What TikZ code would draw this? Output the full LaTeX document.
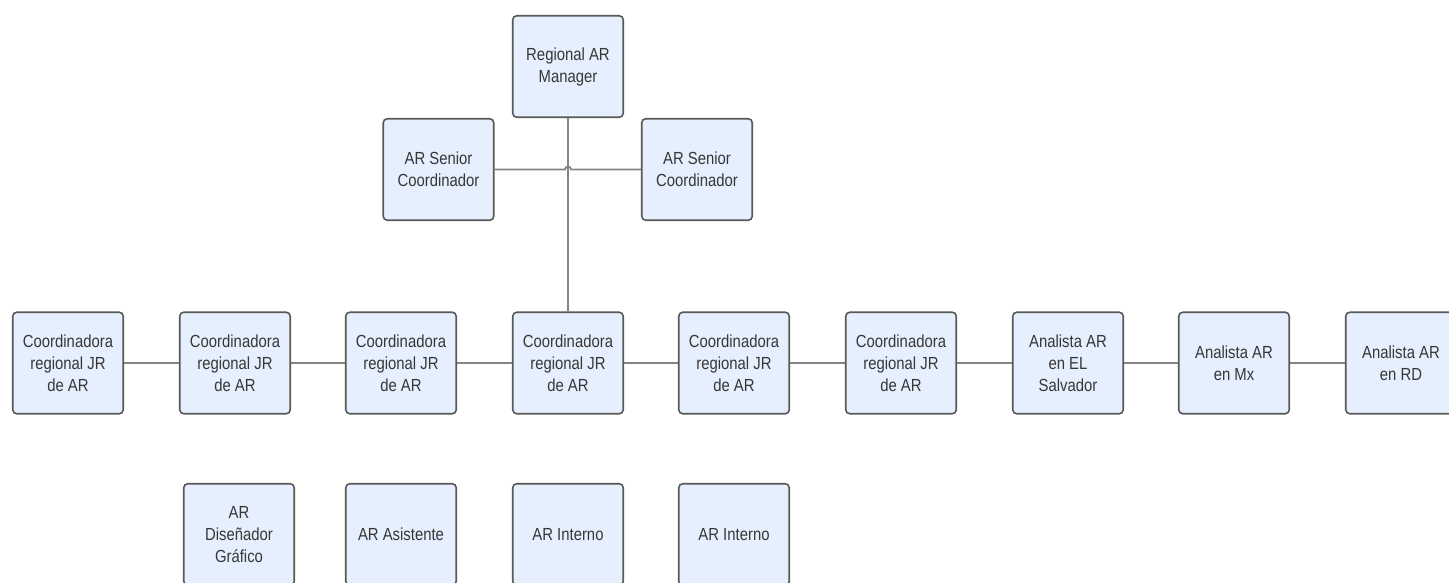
\documentclass[tikz,border=0pt]{standalone}
\usepackage{fontspec}
\setmainfont[FakeStretch=0.85]{Liberation Sans}
\definecolor{boxfill}{RGB}{229,239,253}
\definecolor{boxdraw}{RGB}{88,88,88}
\definecolor{linecol}{RGB}{132,132,132}
\definecolor{txtcol}{RGB}{55,55,55}
\begin{document}
\begin{tikzpicture}[x=1pt,y=-1pt,
  orgbox/.style={draw=boxdraw, fill=boxfill, line width=1.6pt, rounded corners=4pt,
    minimum width=110.5pt, minimum height=101.5pt, inner sep=2pt, align=center,
    text=txtcol, font=\fontsize{17.5}{22}\selectfont},
  link/.style={draw=linecol, line width=1.8pt}]
\useasboundingbox (0,0) rectangle (1449,582);
\begin{scope}
\clip (0,0) rectangle (1449,582);
% top
\node[orgbox] (mgr) at (568,66.5) {Regional AR\\Manager};
\node[orgbox] (sl) at (438.5,169.5) {AR Senior\\Coordinador};
\node[orgbox] (sr) at (697,169.5) {AR Senior\\Coordinador};
% row
\node[orgbox] (r1) at (68,363) {Coordinadora\\regional JR\\de AR};
\node[orgbox] (r2) at (235,363) {Coordinadora\\regional JR\\de AR};
\node[orgbox] (r3) at (401,363) {Coordinadora\\regional JR\\de AR};
\node[orgbox] (r4) at (568,363) {Coordinadora\\regional JR\\de AR};
\node[orgbox] (r5) at (734,363) {Coordinadora\\regional JR\\de AR};
\node[orgbox] (r6) at (901,363) {Coordinadora\\regional JR\\de AR};
\node[orgbox] (r7) at (1068,363) {Analista AR\\en EL\\Salvador};
\node[orgbox] (r8) at (1234,363) {Analista AR\\en Mx};
\node[orgbox] (r9) at (1401,363) {Analista AR\\en RD};
% bottom
\node[orgbox] (b1) at (239,534.5) {AR\\Diseñador\\Gráfico};
\node[orgbox] (b2) at (401,534.5) {AR Asistente};
\node[orgbox] (b3) at (568,534.5) {AR Interno};
\node[orgbox] (b4) at (734,534.5) {AR Interno};
% connectors
\draw[link] (mgr.south) -- (r4.north);
\draw[link] (sl.east) -- ([xshift=-3pt]sl.east -| mgr.south) arc[start angle=180,end angle=360,radius=3] -- (sr.west);
\draw[link] (r1) -- (r2);
\draw[link] (r2) -- (r3);
\draw[link] (r3) -- (r4);
\draw[link] (r4) -- (r5);
\draw[link] (r5) -- (r6);
\draw[link] (r6) -- (r7);
\draw[link] (r7) -- (r8);
\draw[link] (r8) -- (r9);
\end{scope}
\end{tikzpicture}
\end{document}
